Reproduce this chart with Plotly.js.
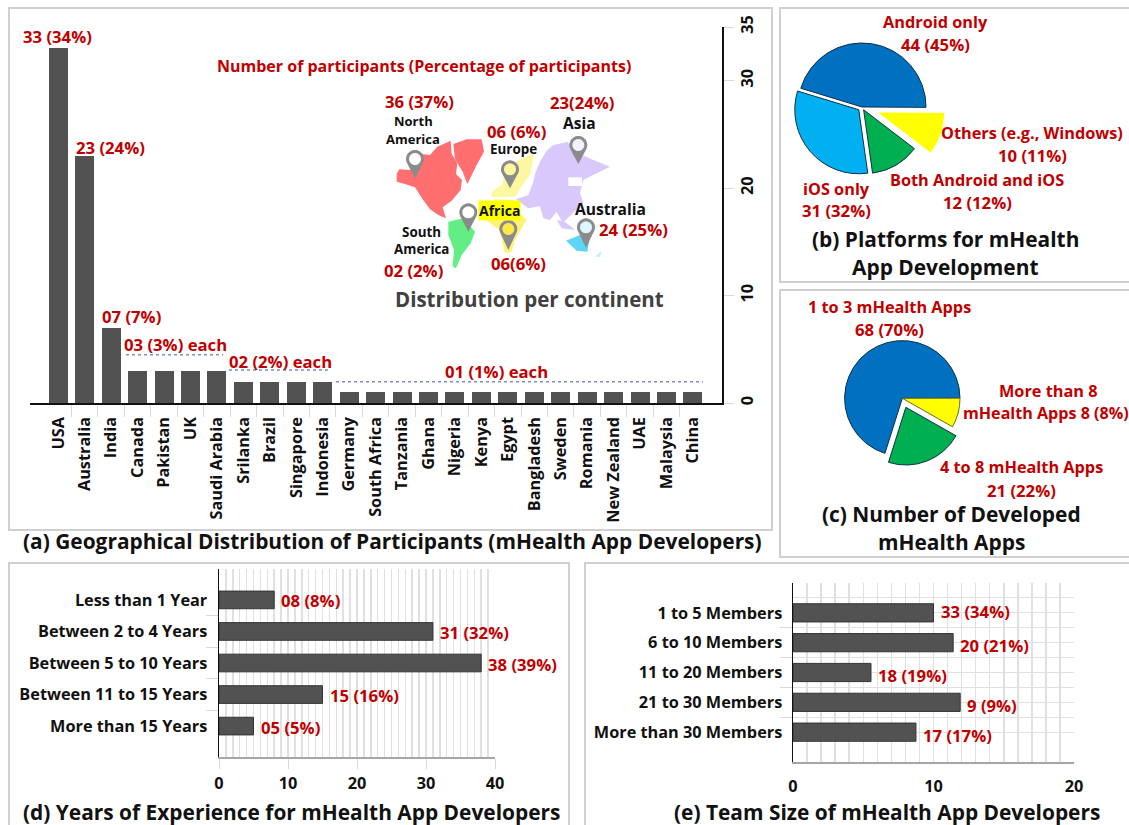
<!DOCTYPE html>
<html><head><meta charset="utf-8">
<script src="https://cdn.plot.ly/plotly-3.0.1.min.js"></script>
<style>html,body{margin:0;padding:0;background:#fff;overflow:hidden}#g{width:1129px;height:825px}</style>
</head><body><div id="g"></div>
<script>
// ---------- data ----------
const countries = ["USA","Australia","India","Canada","Pakistan","UK","Saudi Arabia","Srilanka","Brazil","Singapore","Indonesia","Germany","South Africa","Tanzania","Ghana","Nigeria","Kenya","Egypt","Bangladesh","Sweden","Romania","New Zealand","UAE","Malaysia","China"];
const participants = [33,23,7,3,3,3,3,2,2,2,2,1,1,1,1,1,1,1,1,1,1,1,1,1,1];
const platformLabels = ["Android only","Others (e.g., Windows)","Both Android and iOS","iOS only"];
const platformValues = [44,10,12,31];
const platformColors = ["#0070c0","#ffff00","#00b050","#00b0f0"];
const appsLabels = ["1 to 3 mHealth Apps","More than 8 mHealth Apps","4 to 8 mHealth Apps"];
const appsValues = [68,8,21];
const appsColors = ["#0070c0","#ffff00","#00b050"];
const expLabels = ["Less than 1 Year","Between 2 to 4 Years","Between 5 to 10 Years","Between 11 to 15 Years","More than 15 Years"];
const expValues = [8,31,38,15,5];
const expText = ["08 (8%)","31 (32%)","38 (39%)","15 (16%)","05 (5%)"];
const teamLabels = ["1 to 5 Members","6 to 10 Members","11 to 20 Members","21 to 30 Members","More than 30 Members"];
const teamValues = [10,11.4,5.55,11.9,8.75];
const teamText = ["33 (34%)","20 (21%)","18 (19%)","9 (9%)","17 (17%)"];

// ---------- helpers ----------
const W=1129,H=825,FF='"Open Sans", "Noto Sans", sans-serif';
const RED='#c00000',NUM=16.7,NAME=16.3,TITLE=20.9;
const px=x=>x/W, py=y=>1-y/H;
const dom=(a,b)=>[a/W,b/W], vdom=(top,bot)=>[1-bot/H,1-top/H];
const font=(size,color,weight)=>({family:FF,size,color,weight:weight||700});
function txt(t,x,y,size,color,extra){
  return Object.assign({text:t,xref:'paper',yref:'paper',x:px(x),y:py(y),xanchor:'center',yanchor:'middle',
    showarrow:false,font:font(size,color),borderpad:0},extra||{});
}
const idx=a=>a.map((_,i)=>i);
const mids=a=>a.slice(1).map((_,i)=>i+0.5);
const rect=(x0,y0,x1,y1)=>({type:'rect',xref:'paper',yref:'paper',x0:px(x0),x1:px(x1),y0:py(y0),y1:py(y1),line:{color:'#d0d0d0',width:2},fillcolor:'rgba(0,0,0,0)'});
const dotted=(x0,x1,y)=>({type:'line',xref:'paper',yref:'paper',x0:px(x0),x1:px(x1),y0:py(y),y1:py(y),line:{color:'#7f8fbf',width:1.5,dash:'dot'}});

// decorative world map, outlines in 3x picture space
const mapShapes=[
 ['#ff6f6f',[[50,282],[58,268],[88,270],[112,258],[125,222],[150,225],[172,200],[212,182],[215,222],[232,250],[228,282],[246,300],[242,330],[215,362],[188,382],[198,415],[175,405],[150,388],[128,358],[105,322],[75,312],[50,305]]],
 ['#ff6f6f',[[220,192],[260,178],[305,178],[312,215],[290,255],[262,312],[248,275],[225,238]]],
 ['#62ee84',[[205,425],[250,415],[285,455],[272,490],[245,525],[228,565],[218,560],[222,510],[205,465]]],
 ['#fdf8a0',[[335,335],[368,312],[372,285],[400,250],[462,218],[452,280],[425,318],[405,350],[335,352]]],
 ['#fff27a',[[320,385],[345,358],[400,360],[415,395],[440,420],[405,480],[395,515],[375,520],[358,450],[325,425]]],
 ['#d9c8fc',[[465,282],[480,245],[500,212],[520,195],[562,186],[600,222],[640,240],[690,260],[650,280],[610,300],[600,340],[610,368],[578,400],[548,428],[530,395],[510,420],[490,415],[480,378],[445,385],[408,358],[445,345],[460,305]]],
 ['#d9c8fc',[[530,420],[555,425],[585,450],[545,445]]],
 ['#5cd5f6',[[558,482],[600,465],[628,482],[622,515],[590,512]]],
 ['#bfeffa',[[645,530],[665,512],[660,530]]]
];
const M=p=>[380+p[0]/3,80+p[1]/3];
const poly=(pts,c)=>({type:'path',xref:'paper',yref:'paper',fillcolor:c,line:{width:0},
  path:'M'+pts.map(p=>{const q=M(p);return px(q[0]).toFixed(5)+','+py(q[1]).toFixed(5);}).join('L')+'Z'});
function pin(cx,cy,tip,inner){
  const r=27,body=[],hole=[];
  for(let a=235;a<=485;a+=10){const t=a*Math.PI/180;body.push([cx+r*Math.sin(t),cy-r*Math.cos(t)]);}
  body.push([cx,tip]);
  for(let a=0;a<360;a+=20){const t=a*Math.PI/180;hole.push([cx+18*Math.sin(t),cy-18*Math.cos(t)]);}
  return [poly(body,'#8b8b8b'),poly(hole,inner)];
}
const pins=[[105,237,295,'#ffffff'],[595,195,252,'#f4f0ff'],[390,268,325,'#fdf8a0'],[265,397,455,'#ffffff'],[385,447,510,'#ffe84a'],[618,442,503,'#dff6ff']];

const shapes=[
 rect(9,8,772,530),rect(780,8,1140,282),rect(780,290,1140,557),rect(9,563,569,840),rect(585,563,1140,840),
 dotted(126,223,354.7),dotted(229,329,370),dotted(336,703,381.7),
 ...mapShapes.map(m=>poly(m[1],m[0])),
 poly([[565,292],[606,292],[606,318],[565,318]],'#ffffff'),
 ...pins.flatMap(p=>pin(p[0],p[1],p[2],p[3]))
];

const annotations=[
 // panel a
 txt('33 (34%)',57,37,NUM,RED),txt('23 (24%)',110,147,NUM,RED),txt('07 (7%)',131,316,NUM,RED),
 txt('03 (3%) each',175,344,NUM,RED),txt('02 (2%) each',280,362,NUM,RED),txt('01 (1%) each',496,371,NUM,RED),
 txt('Number of participants (Percentage of participants)',424,66,16,RED),
 txt('36 (37%)',419,101,NUM,RED),txt('North',413,121,13,'#111'),txt('America',413,139,13,'#111'),
 txt('23(24%)',582,102,NUM,RED),txt('Asia',579,123,15.6,'#111'),
 txt('06 (6%)',516,131,NUM,RED),txt('Europe',513,149,13.4,'#111'),
 txt('Africa',499,211,14,'#111',{bgcolor:'#ffff00'}),
 txt('Australia',610,209,15.6,'#111'),txt('24 (25%)',633,229,NUM,RED),
 txt('South',421,232,13.4,'#111'),txt('America',422,249,13.4,'#111'),txt('02 (2%)',413,270,NUM,RED),
 txt('06(6%)',518,263,NUM,RED),
 txt('Distribution per continent',529,299,20.5,'#404040'),
 txt('(a) Geographical Distribution of Participants (mHealth App Developers)',392,541,TITLE,'#111'),
 // panel b
 txt(platformLabels[0],935,22,NAME,RED),txt('44 (45%)',935,44,NUM,RED),
 txt(platformLabels[1],1032,133,NAME,RED),txt('10 (11%)',1032,155,NUM,RED),
 txt(platformLabels[2],977,180,NAME,RED),txt('12 (12%)',977,202,NUM,RED),
 txt(platformLabels[3],836,189,NAME,RED),txt('31 (32%)',836,211,NUM,RED),
 txt('(b) Platforms for mHealth',945,239,TITLE,'#111'),txt('App Development',945,267,TITLE,'#111'),
 // panel c
 txt(appsLabels[0],889,307,NAME,RED),txt('68 (70%)',889,329,NUM,RED),
 txt('More than 8',1048,391,NAME,RED),txt('mHealth Apps 8 (8%)',1046,413,16.1,RED),
 txt(appsLabels[2],1021,467,NAME,RED),txt('21 (22%)',1021,490,NUM,RED),
 txt('(c) Number of Developed',951,514,TITLE,'#111'),txt('mHealth Apps',951,542,TITLE,'#111'),
 // panel d, e
 txt('(d) Years of Experience for mHealth App Developers',291,811.5,TITLE,'#111'),
 txt('(e) Team Size of mHealth App Developers',887,811.5,TITLE,'#111'),
 ...expText.map((t,i)=>({text:t,xref:'x2',yref:'y2',x:expValues[i],y:i,xanchor:'left',yanchor:'middle',xshift:5,yshift:-1,showarrow:false,font:font(NUM,RED)})),
 ...teamText.map((t,i)=>({text:t,xref:'x3',yref:'y3',x:teamValues[i],y:i,xanchor:'left',yanchor:'middle',xshift:5,yshift:i===0?1:-3,showarrow:false,font:font(NUM,RED)}))
];

const barBase={type:'bar',hoverinfo:'skip',textposition:'none'};
const data=[
 Object.assign({},barBase,{x:idx(countries),y:participants,xaxis:'x',yaxis:'y',width:0.72,marker:{color:'#525252'}}),
 Object.assign({},barBase,{orientation:'h',x:expValues,y:idx(expLabels),xaxis:'x2',yaxis:'y2',width:0.56,marker:{color:'#525252',line:{color:'#333333',width:1}}}),
 Object.assign({},barBase,{orientation:'h',x:teamValues,y:idx(teamLabels),xaxis:'x3',yaxis:'y3',width:0.61,marker:{color:'#525252',line:{color:'#333333',width:1}}}),
 {type:'pie',labels:platformLabels,values:platformValues,sort:false,direction:'clockwise',rotation:287,textinfo:'none',hoverinfo:'skip',showlegend:false,
  pull:[0,0.29,0.05,0.066],marker:{colors:platformColors,line:{color:['#10304a','#ffff00','#10304a','#10304a'],width:1}},
  domain:{x:dom(862-82.6,862+82.6),y:vdom(107-82.6,107+82.6)}},
 {type:'pie',labels:appsLabels,values:appsValues,sort:false,direction:'clockwise',rotation:197.5,textinfo:'none',hoverinfo:'skip',showlegend:false,
  pull:[0,0,0.168],marker:{colors:appsColors,line:{color:['#10304a','#6b6b20','#10304a'],width:1}},
  domain:{x:dom(902.3-67.4,902.3+67.4),y:vdom(398.3-67.4,398.3+67.4)}}
];
const tick={family:FF,size:16.3,color:'#111',weight:700};
const GRID='#e0e0e0';
const layout={
 width:W,height:H,margin:{l:0,r:0,t:0,b:0,pad:0},paper_bgcolor:'#fff',plot_bgcolor:'#fff',showlegend:false,hovermode:false,dragmode:false,bargap:0,
 xaxis:{domain:dom(30,722),range:[-1.07,25.1],anchor:'y',showgrid:false,zeroline:false,showline:true,linecolor:'#111',linewidth:1.5,
   tickmode:'array',tickvals:idx(countries),ticktext:countries,tickangle:-90,ticks:'outside',ticklen:6,tickcolor:'rgba(0,0,0,0)',tickfont:tick,
   minor:{tickmode:'array',tickvals:mids(countries),ticks:'outside',ticklen:12,tickcolor:'#d9d9d9',showgrid:false}},
 yaxis:{domain:vdom(27,403),range:[0,35],anchor:'x',side:'right',position:1,showgrid:false,zeroline:false,showline:true,linecolor:'#111',linewidth:1.5,
   tickmode:'array',tickvals:[0,10,20,30,35],tickangle:-90,ticks:'outside',ticklen:10,tickcolor:'#d9d9d9',tickfont:tick},
 xaxis2:{domain:dom(219,495),range:[0,40],anchor:'y2',zeroline:false,showline:true,linecolor:'#a6a6a6',linewidth:2,showgrid:true,gridcolor:GRID,gridwidth:1.5,
   tickmode:'array',tickvals:[0,10,20,30,40],ticks:'outside',ticklen:10,tickcolor:'#d9d9d9',tickfont:tick,
   minor:{dtick:1,showgrid:true,gridcolor:GRID,gridwidth:1.5,ticks:''}},
 yaxis2:{domain:vdom(569,757),range:[4.98,-0.98],anchor:'x2',zeroline:false,showline:true,linecolor:'#111',linewidth:1.5,showgrid:false,
   tickmode:'array',tickvals:idx(expLabels),ticktext:expLabels,ticks:'outside',ticklen:7,tickcolor:'rgba(0,0,0,0)',tickfont:tick,
   minor:{tickmode:'array',tickvals:mids(expLabels),ticks:'outside',ticklen:12,tickcolor:'#d9d9d9',showgrid:false}},
 xaxis3:{domain:dom(793,1074),range:[0,20],anchor:'y3',zeroline:false,showline:true,linecolor:'#a6a6a6',linewidth:2,showgrid:true,gridcolor:GRID,gridwidth:1.5,
   tickmode:'array',tickvals:[0,10,20],ticks:'outside',ticklen:8,tickcolor:'rgba(0,0,0,0)',tickfont:tick,
   minor:{dtick:1,showgrid:true,gridcolor:GRID,gridwidth:1.5,ticks:''}},
 yaxis3:{domain:vdom(583,762),range:[5,-1],anchor:'x3',zeroline:false,showline:true,linecolor:'#111',linewidth:1.5,showgrid:true,gridcolor:GRID,gridwidth:1,
   tickmode:'array',tickvals:[-1,-0.5,...idx(teamLabels)],ticktext:['','',...teamLabels],ticks:'outside',ticklen:6,tickcolor:'rgba(0,0,0,0)',tickfont:tick,
   minor:{tickmode:'array',tickvals:mids(teamLabels),ticks:'outside',ticklen:12,tickcolor:'#d9d9d9',showgrid:true,gridcolor:GRID,gridwidth:1}},
 shapes,annotations
};
Plotly.newPlot('g',data,layout,{staticPlot:true,displayModeBar:false});
</script></body></html>
